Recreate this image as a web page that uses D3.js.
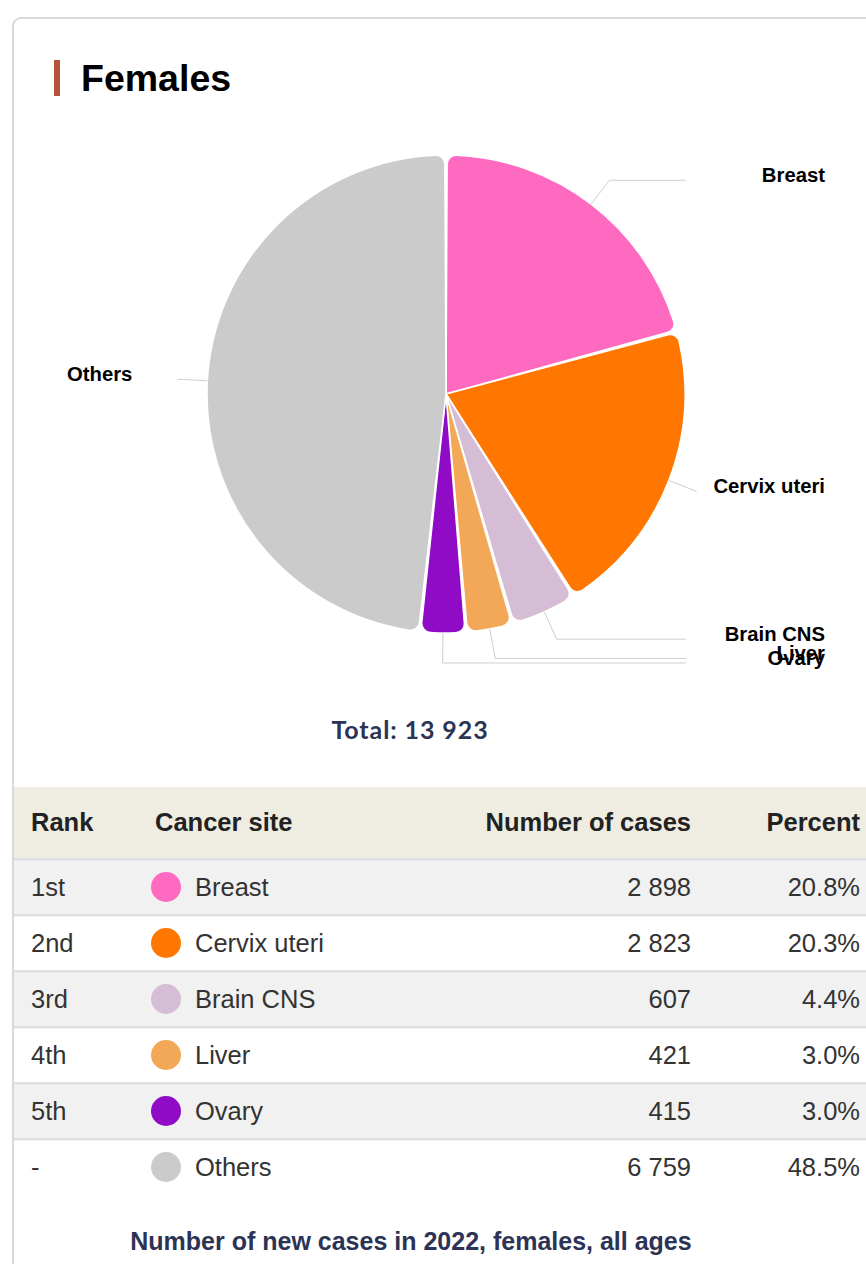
<!DOCTYPE html>
<html>
<head>
<meta charset="utf-8">
<script src="https://cdn.jsdelivr.net/npm/d3@7"></script>
<style>
  html, body { margin: 0; padding: 0; background: #fff; }
  svg { display: block; }
</style>
</head>
<body>
<svg id="chart"></svg>
<script>
// Data
const sites = ["Breast", "Cervix uteri", "Brain CNS", "Liver", "Ovary", "Others"];
const ranks = ["1st", "2nd", "3rd", "4th", "5th", "-"];
const cases = [2898, 2823, 607, 421, 415, 6759];
const percents = ["20.8%", "20.3%", "4.4%", "3.0%", "3.0%", "48.5%"];
const colors = ["#ff6ac1", "#ff7700", "#d5bdd5", "#f3a857", "#8f0bc5", "#cbcbcb"];
const headers = ["Rank", "Cancer site", "Number of cases", "Percent"];

const W = 866, H = 1264;
const svg = d3.select("#chart").attr("width", W).attr("height", H);

// card
svg.append("rect")
    .attr("x", 13).attr("y", 18)
    .attr("width", 920).attr("height", 1320)
    .attr("rx", 8)
    .attr("fill", "#fff")
    .attr("stroke", "#d9d9d9")
    .attr("stroke-width", 2);

// title
svg.append("rect")
    .attr("x", 54).attr("y", 60)
    .attr("width", 6).attr("height", 36)
    .attr("fill", "#b4533c");
svg.append("text")
    .attr("x", 81).attr("y", 91)
    .style("font-family", "'Liberation Sans', Arial, sans-serif")
    .style("font-weight", "bold")
    .style("font-size", "37.5px")
    .attr("fill", "#000")
    .text("Females");

// pie
const cx = 446, cy = 394, R = 239;
const data = sites.map((s, i) => ({site: s, value: cases[i], color: colors[i]}));
const total = d3.sum(cases);

const pie = d3.pie()
    .sort(null)
    .value(d => d.value)
    .padAngle(0.01);

const arc = d3.arc()
    .innerRadius(0)
    .outerRadius(R)
    .cornerRadius(9);

const arcs = pie(data);

const pieG = svg.append("g").attr("transform", `translate(${cx},${cy})`);

pieG.selectAll("path.slice")
    .data(arcs)
    .join("path")
    .attr("class", "slice")
    .attr("d", arc)
    .attr("fill", d => d.data.color)
    .attr("stroke", "#fff")
    .attr("stroke-width", 1.5);

// connectors + labels
const pt = (a, r) => [Math.sin(a) * r, -Math.cos(a) * r];
const labelG = svg.append("g").attr("transform", `translate(${cx},${cy})`);

let cum = 0;
arcs.forEach(d => {
    // side picked from the share itself (padding shifts the drawn angle a little)
    const share = (cum + d.data.value / 2) / total;
    cum += d.data.value;
    const right = share <= 0.5;
    const mid = (d.startAngle + d.endAngle) / 2;
    const p0 = pt(mid, R);
    const p1 = pt(mid, R + 30);
    const endX = right ? Math.max(p1[0], R + 1) : Math.min(p1[0], -R - 1);
    labelG.append("path")
        .attr("d", d3.line()([p0, p1, [endX, p1[1]]]))
        .attr("fill", "none")
        .attr("stroke", "#cfcfcf")
        .attr("stroke-width", 1);

    labelG.append("text")
        .attr("x", right ? 825 - cx : 67 - cx)
        .attr("y", p1[1] - 5.5)
        .attr("dy", "0.35em")
        .attr("text-anchor", right ? "end" : "start")
        .style("font-family", "'Liberation Sans', Arial, sans-serif")
        .style("font-weight", "bold")
        .style("font-size", "20.3px")
        .attr("fill", "#000")
        .text(d.data.site);
});

// total
svg.append("text")
    .attr("x", 410).attr("y", 739)
    .attr("text-anchor", "middle")
    .style("font-family", "Lato, 'Noto Sans', sans-serif")
    .style("font-weight", "bold")
    .style("font-size", "25px")
    .style("letter-spacing", "0.9px")
    .attr("fill", "#2c3354")
    .text("Total: " + d3.format(",")(total).replace(/,/g, " "));

// table
const tableX = 14, tableW = W - tableX;
const headTop = 787, headH = 72;
const rowScale = d3.scaleBand()
    .domain(d3.range(sites.length))
    .range([headTop + headH, headTop + headH + 56 * sites.length]);

const tableFont = "'Liberation Sans', Arial, sans-serif";
const colX = {rank: 31, dot: 166, site: 195, num: 691, pct: 860};

svg.append("rect")
    .attr("x", tableX).attr("y", headTop)
    .attr("width", tableW).attr("height", headH)
    .attr("fill", "#efece1");

const headAnchors = [[colX.rank, "start"], [155, "start"], [colX.num, "end"], [colX.pct, "end"]];
svg.selectAll("text.head")
    .data(headers)
    .join("text")
    .attr("class", "head")
    .attr("x", (d, i) => headAnchors[i][0])
    .attr("y", headTop + headH / 2 - 1)
    .attr("dy", "0.35em")
    .attr("text-anchor", (d, i) => headAnchors[i][1])
    .style("font-family", tableFont)
    .style("font-weight", "bold")
    .style("font-size", "25.5px")
    .attr("fill", "#222")
    .text(d => d);

const rows = svg.selectAll("g.row")
    .data(data)
    .join("g")
    .attr("class", "row")
    .attr("transform", (d, i) => `translate(0,${rowScale(i)})`);

rows.append("rect")
    .attr("x", tableX).attr("y", 0)
    .attr("width", tableW).attr("height", rowScale.bandwidth())
    .attr("fill", (d, i) => i % 2 === 0 ? "#f1f1f1" : "#fff");

rows.append("rect")
    .attr("x", tableX).attr("y", -1)
    .attr("width", tableW).attr("height", 2.5)
    .attr("fill", "#dee0e3");

const mid = rowScale.bandwidth() / 2;
const cellText = (sel) => sel
    .attr("y", mid)
    .attr("dy", "0.35em")
    .style("font-family", tableFont)
    .style("font-size", "25.5px")
    .attr("fill", "#333");

rows.append("text").call(cellText)
    .attr("x", colX.rank)
    .text((d, i) => ranks[i]);

rows.append("circle")
    .attr("cx", colX.dot).attr("cy", mid)
    .attr("r", 15)
    .attr("fill", d => d.color);

rows.append("text").call(cellText)
    .attr("x", colX.site)
    .text(d => d.site);

rows.append("text").call(cellText)
    .attr("x", colX.num)
    .attr("text-anchor", "end")
    .text(d => d3.format(",")(d.value).replace(/,/g, " "));

rows.append("text").call(cellText)
    .attr("x", colX.pct)
    .attr("text-anchor", "end")
    .text((d, i) => percents[i]);

// footer
svg.append("text")
    .attr("x", 411).attr("y", 1241)
    .attr("dy", "0.35em")
    .attr("text-anchor", "middle")
    .style("font-family", tableFont)
    .style("font-weight", "bold")
    .style("font-size", "25px")
    .attr("fill", "#2c3354")
    .text("Number of new cases in 2022, females, all ages");
</script>
</body>
</html>
